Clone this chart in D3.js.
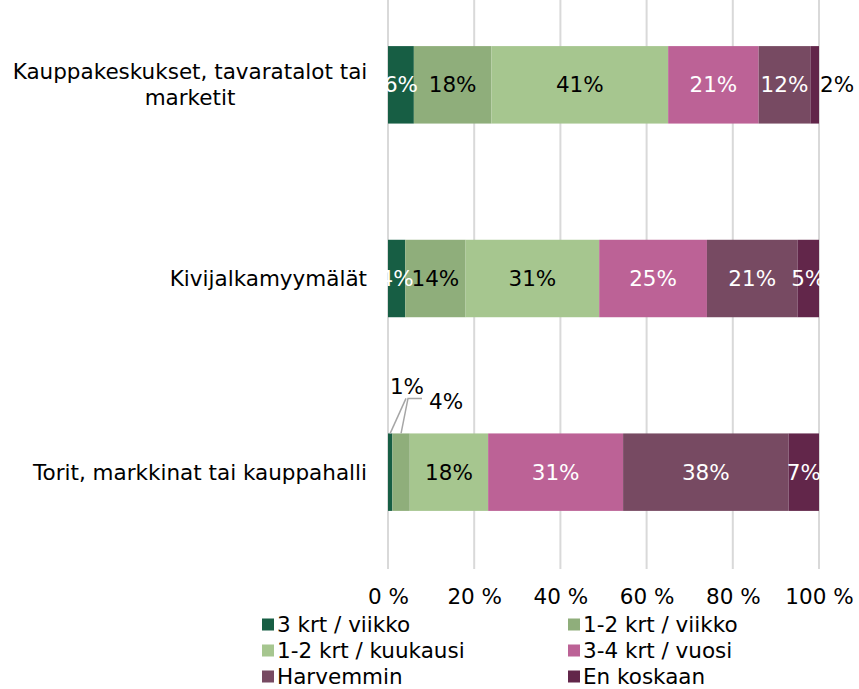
<!DOCTYPE html>
<html>
<head>
<meta charset="utf-8">
<script src="https://cdn.jsdelivr.net/npm/d3@7"></script>
<style>
  body { margin: 0; background: #fff; }
  svg { display: block; font-family: "DejaVu Sans", Verdana, sans-serif; }
</style>
</head>
<body>
<div id="chart"></div>
<script>
const categories = [
    ["Kauppakeskukset, tavaratalot tai", "marketit"],
    ["Kivijalkamyymälät"],
    ["Torit, markkinat tai kauppahalli"]
];
const seriesNames = ["3 krt / viikko", "1-2 krt / viikko", "1-2 krt / kuukausi", "3-4 krt / vuosi", "Harvemmin", "En koskaan"];
const seriesColors = ["#175e44", "#8fae7b", "#a6c68f", "#bc6296", "#774a62", "#62264a"];
const labelColors = ["#fff", "#000", "#000", "#fff", "#fff", "#fff"];
const values = [
    [6, 18, 41, 21, 12, 2],
    [4, 14, 31, 25, 21, 5],
    [1, 4, 18, 31, 38, 7]
];
const tickValues = [0, 0.2, 0.4, 0.6, 0.8, 1];

const width = 859;
const height = 689;
const marginLeft = 388;
const marginRight = 40;
const fontSize = 21.5;

const rows = categories.map((c, i) => {
    const r = {key: i};
    seriesNames.forEach((s, j) => r[s] = values[i][j]);
    return r;
});

const stack = d3.stack().keys(seriesNames).offset(d3.stackOffsetExpand);
const stacked = stack(rows);

const x = d3.scaleLinear().domain([0, 1]).range([marginLeft, width - marginRight]);
const y = d3.scaleBand().domain(d3.range(categories.length))
    .range([-12, 569]).paddingInner(0.6).paddingOuter(0.3);

const svg = d3.create("svg")
    .attr("width", width)
    .attr("height", height)
    .attr("viewBox", [0, 0, width, height]);

// gridlines
svg.append("g")
    .selectAll("line")
    .data(tickValues)
    .join("line")
    .attr("x1", d => x(d)).attr("x2", d => x(d))
    .attr("y1", 0).attr("y2", 569)
    .attr("stroke", "#d9d9d9")
    .attr("stroke-width", 2);

// bars
const groups = svg.append("g")
    .selectAll("g")
    .data(stacked)
    .join("g")
    .attr("fill", (d, i) => seriesColors[i]);

groups.selectAll("rect")
    .data(d => d)
    .join("rect")
    .attr("x", d => x(d[0]))
    .attr("width", d => x(d[1]) - x(d[0]))
    .attr("y", (d, i) => y(i))
    .attr("height", y.bandwidth());

// value labels
const callouts = {"2-0": {dx: 19, dy: -47, anchor: "middle"}, "2-1": {dx: 41, dy: -32, anchor: "start"}};

stacked.forEach((s, si) => {
    s.forEach((d, ci) => {
        const v = values[ci][si];
        const cx = (x(d[0]) + x(d[1])) / 2;
        const cy = y(ci) + y.bandwidth() / 2;
        const key = `${ci}-${si}`;
        const t = svg.append("text")
            .attr("font-size", fontSize)
            .attr("dy", "0.35em")
            .text(v + "%");
        if (callouts[key]) {
            const c = callouts[key];
            const top = y(ci);
            if (c.anchor === "middle") {
                svg.append("line")
                    .attr("x1", cx).attr("y1", top)
                    .attr("x2", x(0) + 18).attr("y2", top - 35)
                    .attr("stroke", "#a6a6a6").attr("stroke-width", 1.5);
            } else {
                svg.append("polyline")
                    .attr("points", [[cx, top], [x(0) + 20, top - 35], [x(0) + 34, top - 35]].join(" "))
                    .attr("fill", "none")
                    .attr("stroke", "#a6a6a6").attr("stroke-width", 1.5);
            }
            t.attr("x", x(0) + c.dx).attr("y", top + c.dy)
                .attr("text-anchor", c.anchor).attr("fill", "#000");
        } else if (v <= 2) {
            t.attr("x", x(d[1]) + 1).attr("y", cy)
                .attr("text-anchor", "start").attr("fill", "#000");
        } else {
            t.attr("x", cx).attr("y", cy)
                .attr("text-anchor", "middle").attr("fill", labelColors[si]);
        }
    });
});

// category labels
svg.append("g")
    .selectAll("text")
    .data(categories)
    .join("text")
    .attr("font-size", fontSize)
    .attr("fill", "#000")
    .each(function (lines, i) {
        const t = d3.select(this);
        const cy = y(i) + y.bandwidth() / 2;
        const x0 = lines.length > 1 ? 190 : 367;
        t.attr("text-anchor", lines.length > 1 ? "middle" : "end");
        lines.forEach((l, k) => {
            t.append("tspan")
                .attr("x", x0)
                .attr("y", cy + (k - (lines.length - 1) / 2) * 26)
                .attr("dy", "0.35em")
                .text(l);
        });
    });

// x axis
svg.append("g")
    .attr("transform", `translate(0,${586})`)
    .call(d3.axisBottom(x).tickValues(tickValues).tickSize(0).tickFormat(d => Math.round(d * 100) + " %"))
    .call(g => g.select(".domain").remove())
    .call(g => g.selectAll("text")
        .attr("font-family", "DejaVu Sans, Verdana, sans-serif")
        .attr("font-size", fontSize)
        .attr("fill", "#000"));

// legend
const legend = svg.append("g")
    .selectAll("g")
    .data(seriesNames)
    .join("g")
    .attr("transform", (d, i) => `translate(${i % 2 === 0 ? 262 : 568},${624.5 + Math.floor(i / 2) * 26})`);

legend.append("rect")
    .attr("x", 0).attr("y", -6)
    .attr("width", 12).attr("height", 12)
    .attr("fill", (d, i) => seriesColors[i]);

legend.append("text")
    .attr("x", 15)
    .attr("dy", "0.35em")
    .attr("font-size", fontSize)
    .attr("fill", "#000")
    .text(d => d);

document.getElementById("chart").append(svg.node());
</script>
</body>
</html>
